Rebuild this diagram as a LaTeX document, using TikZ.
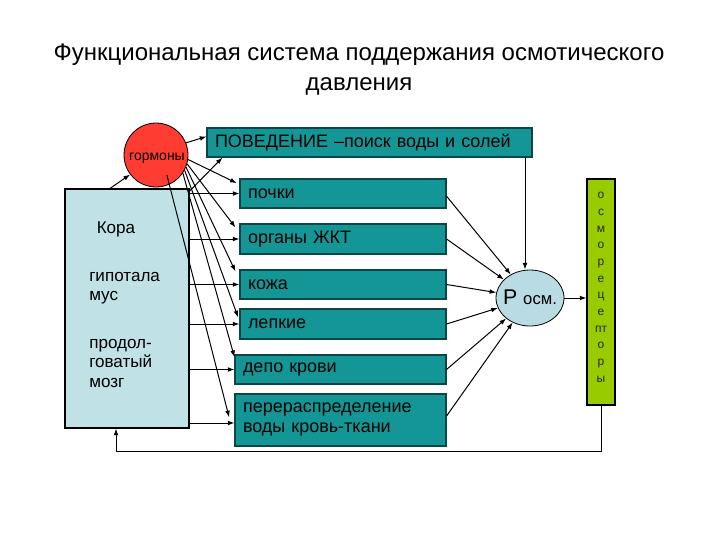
\documentclass[tikz,border=0pt]{standalone}
\usepackage{fontspec}
\setmainfont{Liberation Sans}
\usetikzlibrary{shapes.geometric,arrows.meta}
\definecolor{tealbox}{RGB}{20,150,150}
\definecolor{tealedge}{RGB}{10,70,70}
\definecolor{lightblue}{RGB}{192,226,230}
\definecolor{ellblue}{RGB}{185,220,228}
\definecolor{redc}{RGB}{255,60,50}
\definecolor{greenbar}{RGB}{153,204,0}
\tikzset{
  tbox/.style={draw=tealedge, fill=tealbox, line width=0.8pt, minimum width=#1, text width=#1-12pt, inner xsep=6pt, align=left, font=\fontsize{13.5pt}{15pt}\selectfont, text=black},
  arr/.style={-{Latex[length=5pt,width=3.6pt]}, line width=0.75pt},
  lbtext/.style={font=\fontsize{12.8pt}{14.5pt}\selectfont, align=left, anchor=north west, inner sep=0pt}
}
\begin{document}
\begin{tikzpicture}[x=0.75pt,y=-0.75pt]
\useasboundingbox (0,0) rectangle (720,540);
% title
\node[font=\fontsize{18pt}{22.5pt}\selectfont, align=center] (title) at (359,70) {Функциональная система поддержания осмотического\\давления};
% left box
\node[draw=black, fill=lightblue, line width=0.8pt, minimum width=93pt, minimum height=179.25pt] (lb) at (127,308.5) {};
\node[lbtext, anchor=center] (kora) at (116,229) {Кора};
\node[lbtext] (gip) at (89,272) {гипотала\\мус};
\node[lbtext] (prod) at (89,339) {продол-\\говатый\\мозг};
% hormones circle
\node[circle, draw=black, fill=redc, line width=0.6pt, minimum size=48pt, inner sep=0pt] (horm) at (156,155) {};
\node[font=\fontsize{10.5pt}{12pt}\selectfont, inner sep=0pt] (hormt) at (157,158) {гормоны};
% boxes
\node[tbox=243.75pt, minimum height=21.75pt] (beh) at (369.5,142.5) {ПОВЕДЕНИЕ –поиск воды и солей};
\node[tbox=154.5pt, minimum height=21.75pt] (pochki) at (343,193.5) {почки};
\node[tbox=154.5pt, minimum height=22.5pt] (zhkt) at (343,239) {органы ЖКТ};
\node[tbox=154.5pt, minimum height=21.75pt] (kozha) at (343,284.5) {кожа};
\node[tbox=154.5pt, minimum height=22.5pt] (lepk) at (343,324) {лепкие};
\node[tbox=158.25pt, minimum height=21.75pt] (depo) at (340.5,369.5) {депо крови};
\node[tbox=158.25pt, minimum height=39pt] (perer) at (340.5,420) {перераспределение\\воды кровь-ткани};
% P osm
\node[ellipse, draw=black, fill=ellblue, line width=0.6pt, minimum width=51pt, minimum height=42pt, inner sep=0pt] (posm) at (530,298) {};
\node[inner sep=0pt] (posmt) at (530,297) {\fontsize{16pt}{16pt}\selectfont P \fontsize{12.5pt}{14pt}\selectfont осм.};
% osmoreceptors bar
\node[draw=black, fill=greenbar, line width=0.8pt, minimum width=21pt, minimum height=169.5pt, inner sep=0pt] (bar) at (601,292) {};
\node[align=center, font=\fontsize{9pt}{12.5pt}\selectfont, text={rgb,255:red,40;green,40;blue,40}, anchor=north, inner sep=0pt] (bartext) at (601,192) {о\\с\\м\\о\\р\\е\\ц\\е\\пт\\о\\р\\ы};
% arrows: left box to boxes
\draw[arr] (lb.east |- pochki.west) -- (pochki.west);
\draw[arr] (lb.east |- zhkt.west) -- (zhkt.west);
\draw[arr] (lb.east |- kozha.west) -- (kozha.west);
\draw[arr] (lb.east |- lepk.west) -- (lepk.west);
\draw[arr] (lb.east |- depo.west) -- (depo.west);
\draw[arr] ([yshift=-2.25pt]lb.east |- perer.west) -- ([yshift=-2.25pt]perer.west);
\draw[arr] ([xshift=-12.75pt]lb.north) -- (horm.217);
\draw[arr] ([yshift=-2pt]lb.north east) -- ([xshift=12pt]beh.south west);
% hormones to boxes
\draw[arr] (horm.22) -- ([yshift=4.5pt]beh.west);
\draw[arr] (horm.-8) -- ([xshift=-2pt,yshift=-3.5pt]pochki.north west);
\draw[arr] (horm.-16) -- ([xshift=-3pt,yshift=-3pt]zhkt.north west);
\draw[arr] (horm.-22) -- ([xshift=-3pt,yshift=-1.5pt]kozha.north west);
\draw[arr] (horm.-28) -- ([xshift=-1pt,yshift=5pt]lepk.west);
\draw[arr] (horm.-34) -- ([xshift=0pt,yshift=-2pt]depo.north west);
\draw[arr] ([shift={(-4pt,6pt)}]horm.-60) -- ([xshift=-4pt,yshift=2pt]perer.west);
% boxes to P osm
\draw[arr] ([yshift=-2pt]pochki.east) -- (posm);
\draw[arr] (zhkt.east) -- (posm);
\draw[arr] (kozha.east) -- (posm);
\draw[arr] (lepk.east) -- (posm);
\draw[arr] (depo.east) -- (posm);
\draw[arr] ([yshift=3pt]perer.east) -- (posm);
\draw[arr] ([xshift=-3.75pt]posm.north |- beh.south) -- ([xshift=-3.75pt]posm.north);
\draw[arr] (posm.east) -- (bar.west |- posm.east);
% feedback
\coordinate (fb) at (116,451);
\draw[arr] (bar.south) |- (fb) -- (fb |- lb.south);
\end{tikzpicture}
\end{document}
